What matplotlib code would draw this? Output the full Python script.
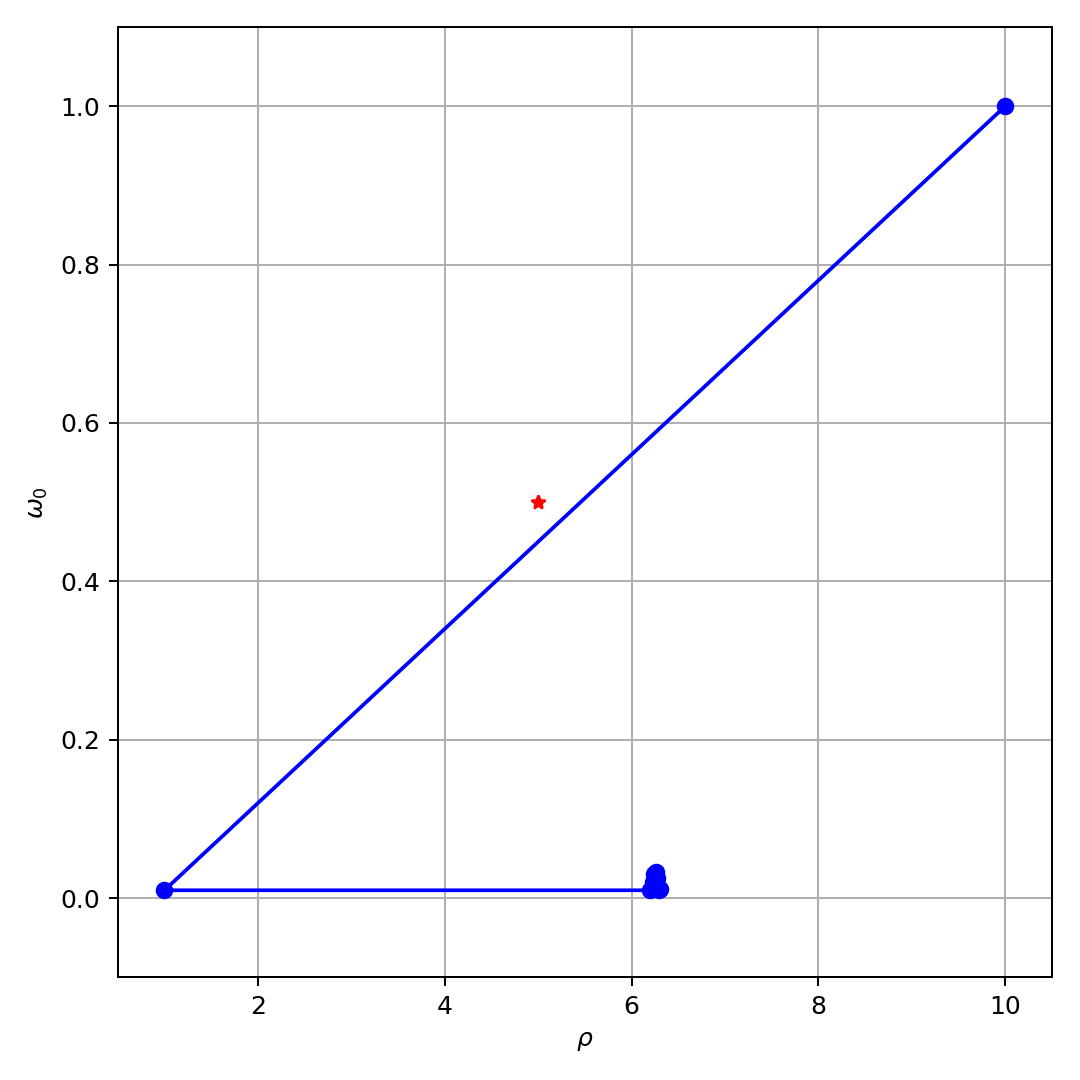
import matplotlib
matplotlib.use("Agg")
from matplotlib import pyplot as plt

# trajectory of (rho, omega_0) iterations
rho = [10.0, 1.0, 6.2, 6.29, 6.26, 6.27, 6.24, 6.26, 6.23, 6.3, 6.25]
omega0 = [1.0, 0.01, 0.01, 0.01, 0.02, 0.025, 0.03, 0.033, 0.02, 0.012, 0.015]

# target point
rho_target = [5.0]
omega_target = [0.5]

fig, ax = plt.subplots(figsize=(6, 6), dpi=180)
ax.plot(rho, omega0, 'b-o')
ax.plot(rho_target, omega_target, 'r*')
ax.set_xlim(0.5, 10.5)
ax.set_ylim(-0.1, 1.1)
ax.set_xlabel(r'$\rho$')
ax.set_ylabel(r'$\omega_0$')
ax.grid(True)
fig.subplots_adjust(left=0.109, right=0.974, bottom=0.095, top=0.975)
fig.savefig("out.png")
